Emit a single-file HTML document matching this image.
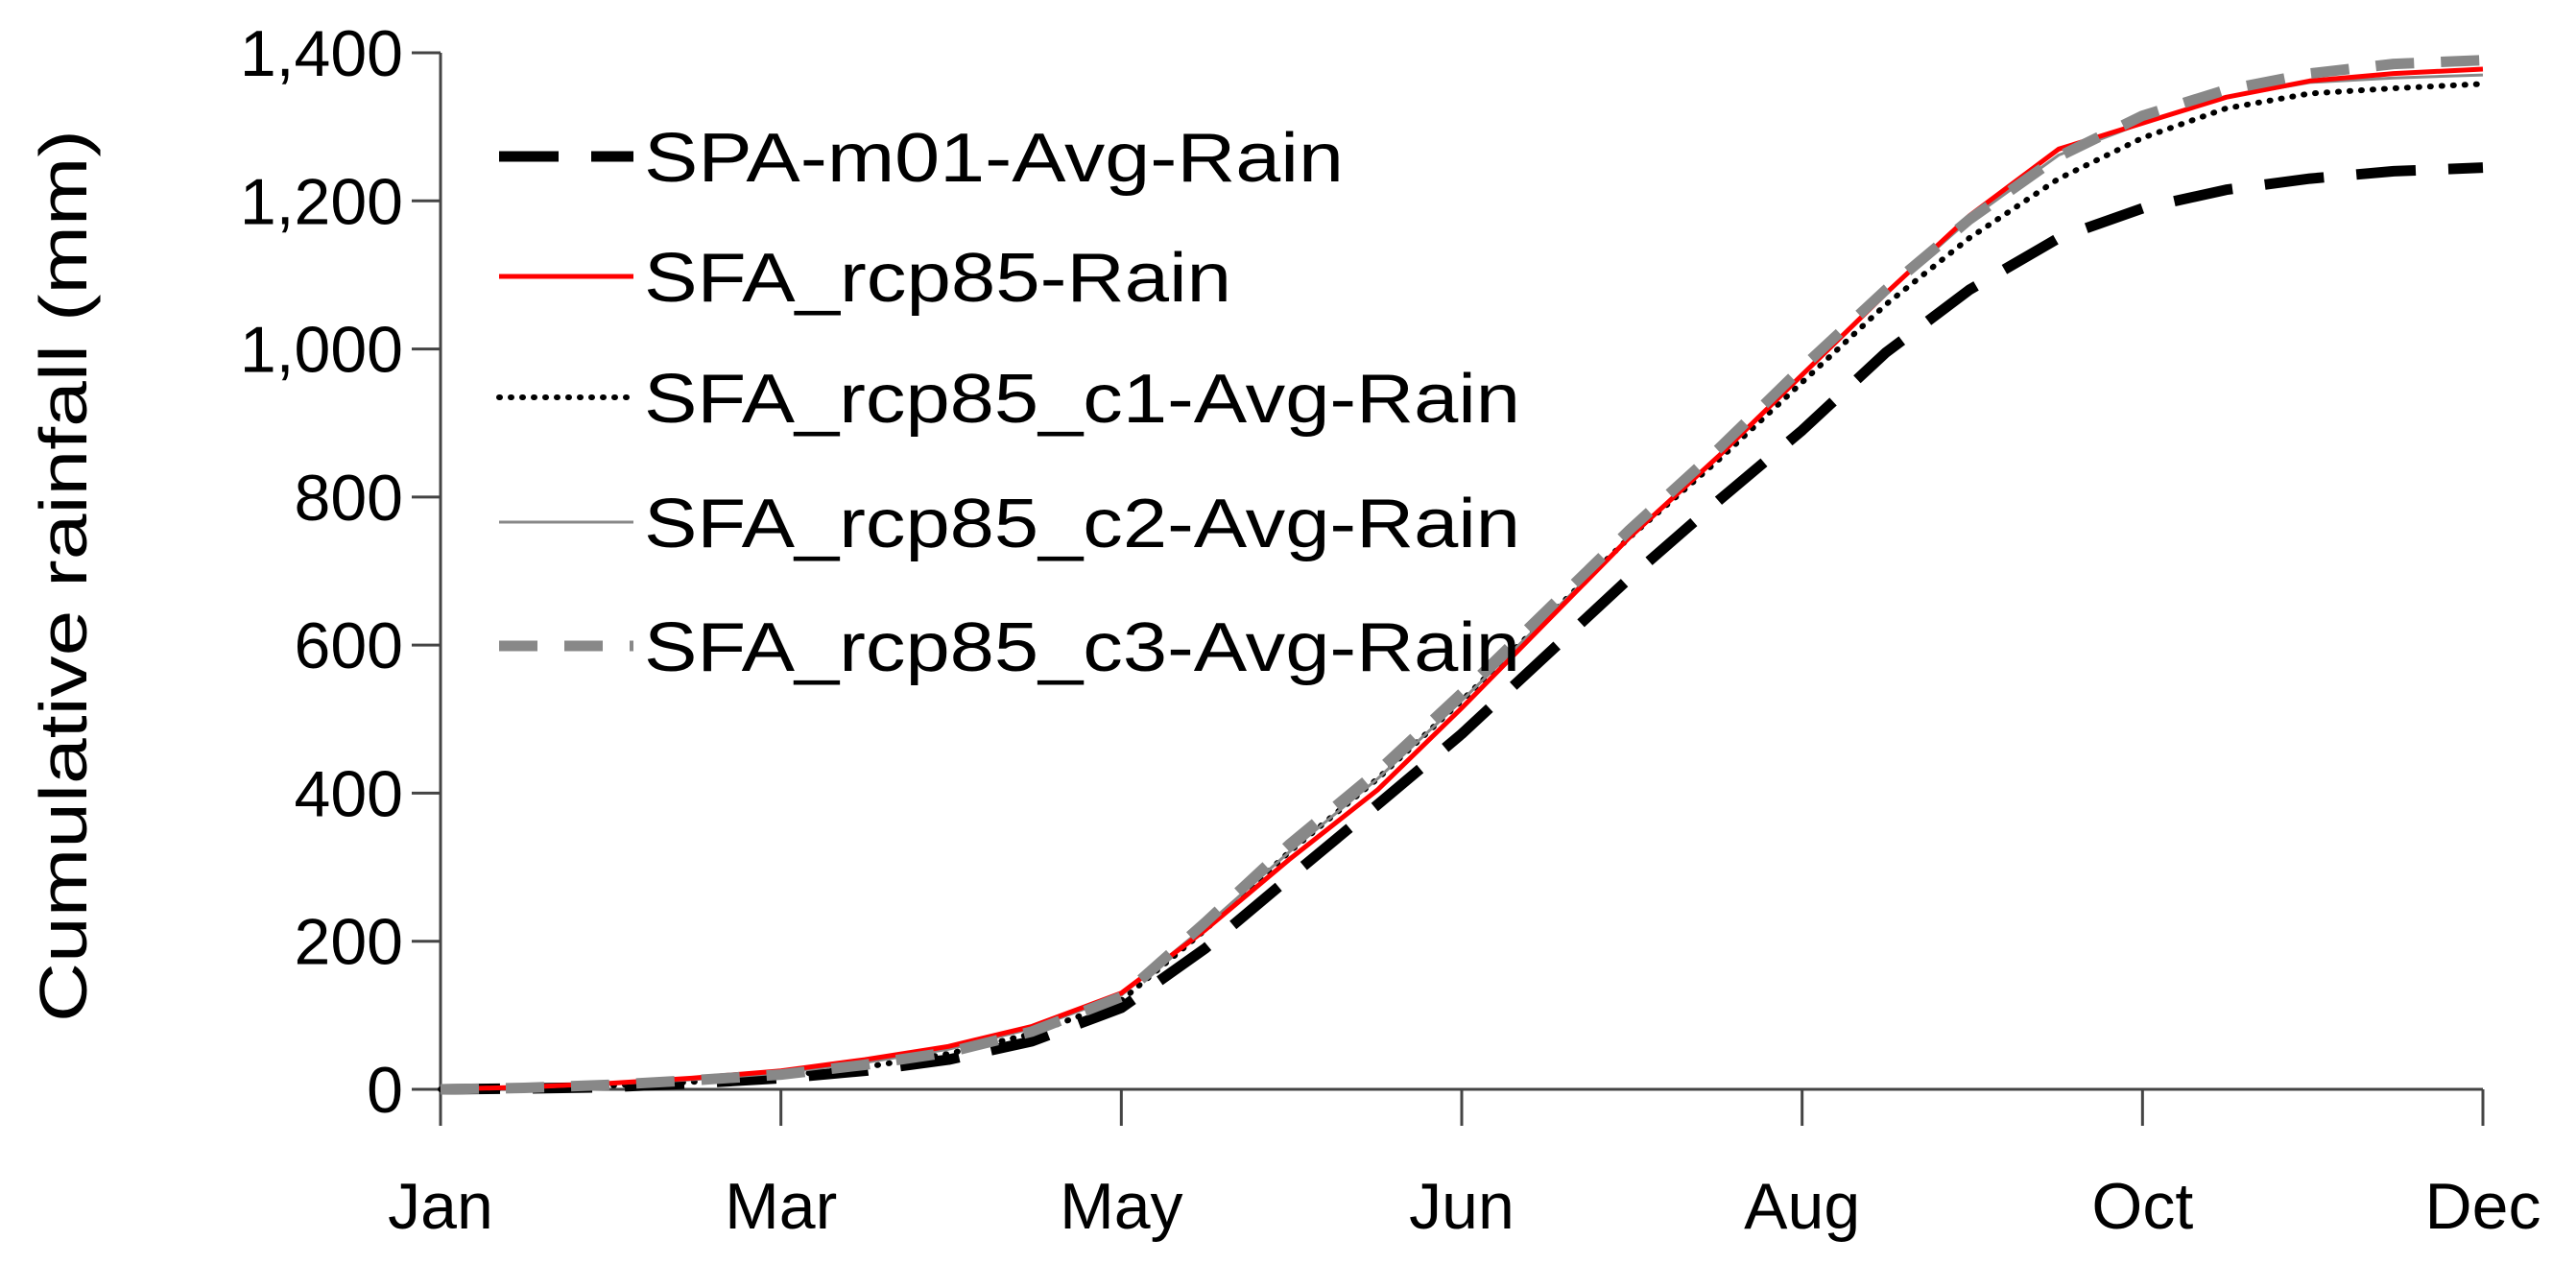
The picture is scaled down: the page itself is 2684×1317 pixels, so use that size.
<!DOCTYPE html>
<html><head><meta charset="utf-8"><style>
body{margin:0;background:#fff}
svg{display:block;font-family:"Liberation Sans",Arial,sans-serif}
</style></head><body>
<svg id="chart" width="2684" height="1317" viewBox="0 0 2684 1317"></svg>
<script>
const days=[0,15,30,45,61,76,91,106,122,137,152,168,183,198,213,229,244,259,274,290,305,320,335,350,366];
const m01=[0,1,3,8,15,25,40,65,110,190,285,385,480,585,690,795,890,995,1080,1150,1190,1215,1230,1240,1245];
const rcp85=[0,3,8,15,25,40,58,85,130,215,310,405,515,630,745,855,965,1075,1180,1270,1305,1340,1362,1372,1378];
const c1=[0,2,5,10,18,30,48,75,120,215,320,420,525,635,745,850,955,1060,1150,1230,1285,1325,1345,1352,1358];
const c2=[0,2,7,13,22,36,54,82,127,220,320,420,525,635,745,855,965,1075,1175,1262,1305,1340,1360,1366,1370];
const c3=[0,2,6,12,20,33,50,78,125,225,330,430,535,645,755,865,975,1080,1175,1260,1315,1350,1372,1385,1390];
const yTicks=[0,200,400,600,800,1000,1200,1400];
const xTickDays=[0,61,122,183,244,305,366];
const xTickLabels=["Jan","Mar","May","Jun","Aug","Oct","Dec"];
const seriesNames=["SPA-m01-Avg-Rain","SFA_rcp85-Rain","SFA_rcp85_c1-Avg-Rain","SFA_rcp85_c2-Avg-Rain","SFA_rcp85_c3-Avg-Rain"];

const L=459,R=2587,T=55,B=1135;
const xs=d=>L+(d/366)*(R-L);
const ys=v=>B-(v/1400)*(B-T);
const svg=document.getElementById('chart');
const NS='http://www.w3.org/2000/svg';
function mk(tag,attrs,parent){const e=document.createElementNS(NS,tag);for(const k in attrs)e.setAttribute(k,attrs[k]);(parent||svg).appendChild(e);return e;}

let ax=mk('line',{x1:L,y1:T,x2:L,y2:B,stroke:'#444','stroke-width':3});


ax=mk('line',{x1:L,y1:B,x2:R,y2:B,stroke:'#444','stroke-width':3});



yTicks.forEach(v=>{
  const t=mk('line',{x1:L-30,y1:ys(v),x2:L,y2:ys(v),stroke:'#444','stroke-width':3});
  
  
  const tx=mk('text',{x:420,y:ys(v)+24,'text-anchor':'end','font-size':68,fill:'#000'});
  tx.textContent=v.toLocaleString('en-US');
  
  
});
xTickDays.forEach((d,i)=>{
  const t=mk('line',{x1:xs(d),y1:B,x2:xs(d),y2:B+38,stroke:'#444','stroke-width':3});
  
  
  const tx=mk('text',{x:xs(d),y:1280,'text-anchor':'middle','font-size':68,fill:'#000'});
  tx.textContent=xTickLabels[i];
  
  
});
const yt=mk('text',{x:0,y:0,transform:'translate(90,600) rotate(-90)','text-anchor':'middle','font-size':70,fill:'#000',textLength:930,lengthAdjust:'spacingAndGlyphs'});
yt.textContent='Cumulative rainfall (mm)';



const styles=[
 {stroke:'#000','stroke-width':11,'stroke-dasharray':'62 34',fill:'none'},
 {stroke:'#f00','stroke-width':5,fill:'none'},
 {stroke:'#000','stroke-width':6,'stroke-dasharray':'1 11','stroke-linecap':'round',fill:'none'},
 {stroke:'#888','stroke-width':3,fill:'none'},
 {stroke:'#888','stroke-width':11,'stroke-dasharray':'40 28',fill:'none'}
];
const data=[m01,rcp85,c1,c2,c3];
const keys=['series-spa-m01','series-sfa-rcp85','series-sfa-rcp85-c1','series-sfa-rcp85-c2','series-sfa-rcp85-c3'];
const order=[0,2,3,1,4];
order.forEach(i=>{
  const d=data[i].map((v,j)=>(j?'L':'M')+xs(days[j]).toFixed(1)+','+ys(v).toFixed(1)).join(' ');
  const p=mk('path',Object.assign({d:d,'stroke-linejoin':'round'},styles[i]));
  
  
});

const rowsY=[163,288,414,544,673];
const widths=[729,612,913,913,913];
seriesNames.forEach((n,i)=>{
  const g=mk('g',{});
  
  
  const st=Object.assign({},styles[i]);
  mk('line',Object.assign({x1:520,y1:rowsY[i],x2:660,y2:rowsY[i]},st),g);
  const tx=mk('text',{x:671,y:rowsY[i]+26,'font-size':72,fill:'#000',textLength:widths[i],lengthAdjust:'spacingAndGlyphs'},g);
  tx.textContent=n;
  
  
});
</script>
</body></html>
